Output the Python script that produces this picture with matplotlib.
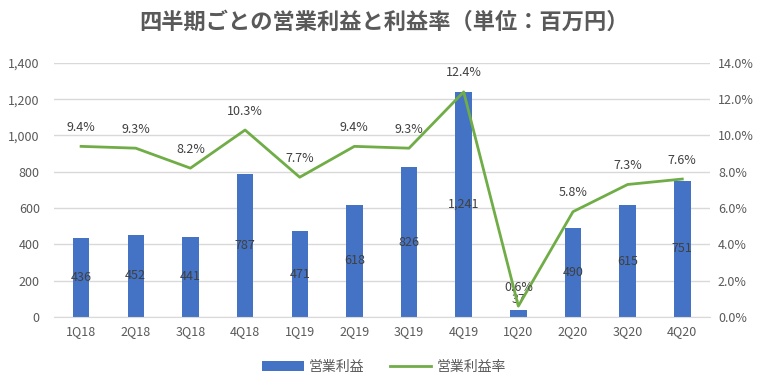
import matplotlib.pyplot as plt
import numpy as np
from matplotlib.ticker import FuncFormatter

plt.rcParams['font.family'] = ['Noto Sans CJK JP', 'DejaVu Sans']

quarters = ['1Q18', '2Q18', '3Q18', '4Q18', '1Q19', '2Q19', '3Q19', '4Q19',
            '1Q20', '2Q20', '3Q20', '4Q20']
profit = [436, 452, 441, 787, 471, 618, 826, 1241, 37, 490, 615, 751]
margin = [9.4, 9.3, 8.2, 10.3, 7.7, 9.4, 9.3, 12.4, 0.6, 5.8, 7.3, 7.6]

bar_color = '#4472C4'
line_color = '#70AD47'
text_color = '#595959'

fig = plt.figure(figsize=(7.68, 3.88), dpi=100)
ax = fig.add_axes([0.070, 0.183, 0.854, 0.655])
ax2 = ax.twinx()

x = np.arange(len(quarters))
bars = ax.bar(x, profit, width=0.3, color=bar_color, label='営業利益', zorder=2)
line, = ax2.plot(x, margin, color=line_color, linewidth=2, label='営業利益率', zorder=3)

ax.set_xlim(-0.5, len(quarters) - 0.5)
ax.set_ylim(0, 1400)
ax.set_yticks(np.arange(0, 1401, 200))
ax.yaxis.set_major_formatter(FuncFormatter(lambda v, p: f'{int(v):,}'))
ax2.set_ylim(0, 14)
ax2.set_yticks(np.arange(0, 14.1, 2))
ax2.yaxis.set_major_formatter(FuncFormatter(lambda v, p: f'{v:.1f}%'))

ax.set_xticks(x)
ax.set_xticklabels(quarters)
ax.grid(axis='y', color='#D9D9D9', linewidth=1, zorder=0)
ax.set_axisbelow(True)

for a in (ax, ax2):
    for s in a.spines.values():
        s.set_visible(False)
    a.tick_params(length=0, colors=text_color, labelsize=9)
ax.spines['bottom'].set_visible(True)
ax.spines['bottom'].set_color('#D9D9D9')
ax.tick_params(axis='x', pad=6)
ax.tick_params(axis='y', pad=10)
ax2.tick_params(axis='y', pad=6)

# ラベル: 棒の中央、小さい棒は上に
for xi, v in zip(x, profit):
    y = v / 2 if v > 150 else v + 60
    ax.text(xi, y, f'{v:,}', ha='center', va='center', fontsize=9, color='#404040')

# 利益率ラベル
for xi, m in zip(x, margin):
    ax2.annotate(f'{m:.1f}%', (xi, m), xytext=(0, 9), textcoords='offset points',
                 ha='center', va='bottom', fontsize=9, color='#404040')

fig.text(0.5, 0.943, '四半期ごとの営業利益と利益率（単位：百万円）', ha='center', va='center',
         fontsize=16, fontweight='bold', color=text_color)

fig.legend([bars, line], ['営業利益', '営業利益率'], loc='center', bbox_to_anchor=(0.5, 0.055),
           ncol=2, frameon=False, fontsize=10, labelcolor=text_color,
           handlelength=3, handletextpad=0.4, columnspacing=1.8)

fig.savefig('out.png', dpi=100)
